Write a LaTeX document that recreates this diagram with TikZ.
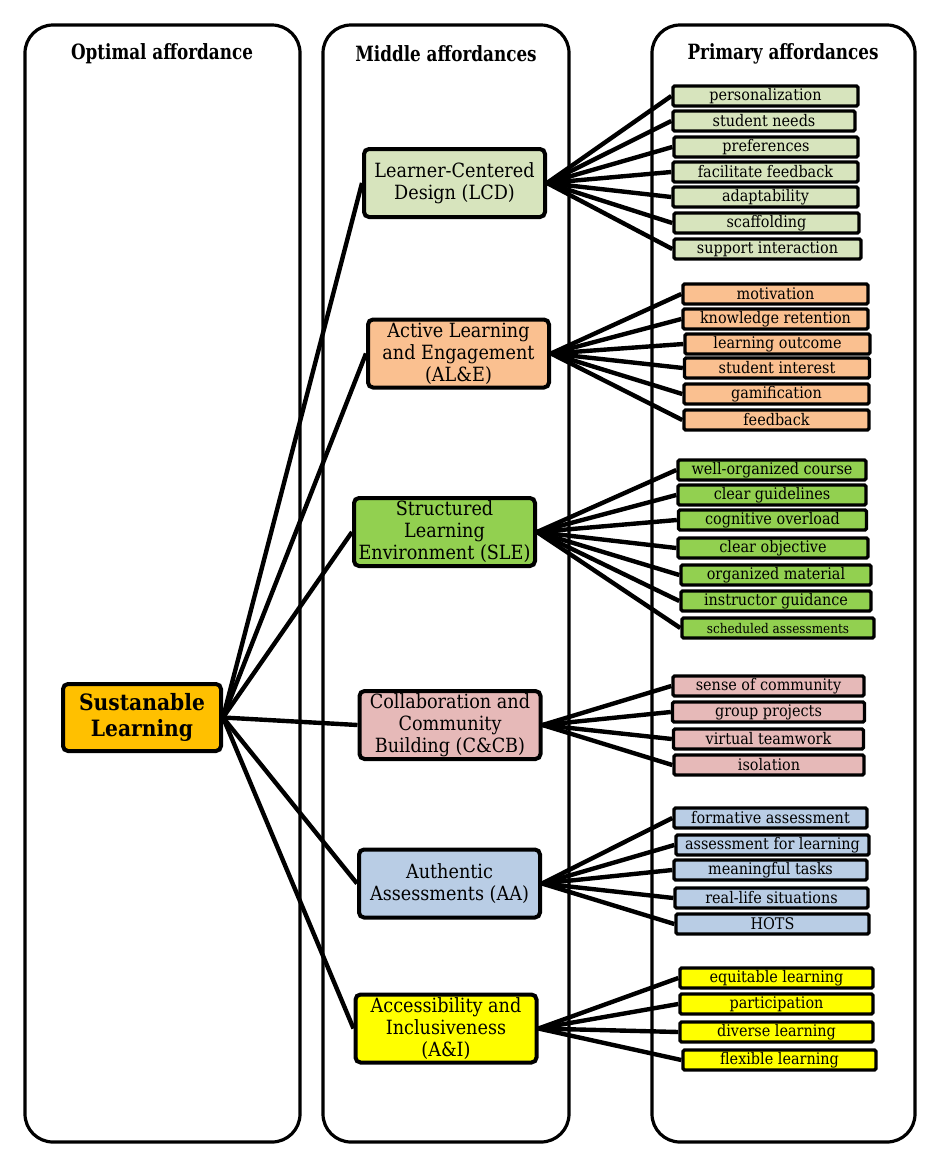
\documentclass[tikz,border=0pt]{standalone}
\usepackage{fontspec}
\setmainfont{DejaVu Serif}[FakeStretch=0.9]
\newfontfamily\headfont{DejaVu Serif}[FakeStretch=0.8]
\usetikzlibrary{backgrounds}
\definecolor{goldc}{HTML}{FFC000}
\definecolor{lcdc}{HTML}{D7E4BD}
\definecolor{alec}{HTML}{FAC090}
\definecolor{slec}{HTML}{92D050}
\definecolor{ccbc}{HTML}{E6B9B8}
\definecolor{aac}{HTML}{B9CDE5}
\definecolor{aic}{HTML}{FFFF00}
\tikzset{
  column/.style={draw, line width=3.2pt, rounded corners=28pt},
  header/.style={font=\headfont\fontsize{21}{24}\selectfont\bfseries},
  mainbox/.style={draw, line width=4pt, rounded corners=5pt, fill=goldc, inner sep=0pt,
    minimum width=158pt, minimum height=67pt, align=center, font=\fontsize{22.5}{26}\selectfont\bfseries},
  midbox/.style={draw, line width=4pt, rounded corners=5pt, inner sep=0pt,
    minimum width=181pt, minimum height=68pt, align=center, font=\fontsize{19.6}{22}\selectfont},
  prim/.style={draw, line width=3.4pt, rounded corners=1.5pt, inner sep=0pt,
    minimum width=185pt, minimum height=20pt, font=\fontsize{16}{17}\selectfont},
  link/.style={line width=4.4pt},
}
\begin{document}
\begin{tikzpicture}[x=1pt, y=-1pt]
\useasboundingbox (0,0) rectangle (941,1168);
% columns
\draw[column] (25,25) rectangle (300,1142);
\draw[column] (323,25) rectangle (569,1142);
\draw[column] (652,25) rectangle (915,1142);
\node[header] (h1) at (162,54) {Optimal affordance};
\node[header] (h2) at (446,54) {Middle affordances};
\node[header] (h3) at (783,54) {Primary affordances};
% main
\node[mainbox] (sl) at (142,717.5) {Sustanable\\Learning};
% middle
\node[midbox, fill=lcdc] (lcd) at (454.5,183) {Learner-Centered\\Design (LCD)};
\node[midbox, fill=alec] (ale) at (458.5,353.5) {Active Learning\\and Engagement\\(AL\&E)};
\node[midbox, fill=slec] (sle) at (444.5,532) {Structured\\Learning\\Environment (SLE)};
\node[midbox, fill=ccbc] (ccb) at (450,725) {Collaboration and\\Community\\Building (C\&CB)};
\node[midbox, fill=aac] (aa) at (449.5,883.5) {Authentic\\Assessments (AA)};
\node[midbox, fill=aic] (ai) at (446,1028.5) {Accessibility and\\Inclusiveness\\(A\&I)};
% LCD group
\node[prim, fill=lcdc] (p11) at (765.5,96) {personalization};
\node[prim, fill=lcdc, minimum width=182pt] (p12) at (764,121) {student needs};
\node[prim, fill=lcdc, minimum width=184pt] (p13) at (766,147) {preferences};
\node[prim, fill=lcdc] (p14) at (765.5,172) {facilitate feedback};
\node[prim, fill=lcdc] (p15) at (765.5,197) {adaptability};
\node[prim, fill=lcdc] (p16) at (766.5,223) {scaffolding};
\node[prim, fill=lcdc, minimum width=187pt] (p17) at (767.5,249) {support interaction};
% AL&E group
\node[prim, fill=alec] (p21) at (775.5,294) {motivation};
\node[prim, fill=alec] (p22) at (775.5,319) {knowledge retention};
\node[prim, fill=alec] (p23) at (777.5,344) {learning outcome};
\node[prim, fill=alec] (p24) at (777,368) {student interest};
\node[prim, fill=alec] (p25) at (776.5,394) {gamification};
\node[prim, fill=alec] (p26) at (776.5,420) {feedback};
% SLE group
\node[prim, fill=slec, minimum width=188pt] (p31) at (772,470) {well-organized course};
\node[prim, fill=slec, minimum width=188pt] (p32) at (772,495) {clear guidelines};
\node[prim, fill=slec, minimum width=188pt] (p33) at (772.5,520) {cognitive overload};
\node[prim, fill=slec, minimum width=190pt] (p34) at (773,548) {clear objective};
\node[prim, fill=slec, minimum width=190pt] (p35) at (776,575) {organized material};
\node[prim, fill=slec, minimum width=190pt] (p36) at (776,601) {instructor guidance};
\node[prim, fill=slec, minimum width=192pt, font=\fontsize{13.4}{14}\selectfont] (p37) at (778,628) {scheduled assessments};
% C&CB group
\node[prim, fill=ccbc, minimum width=191pt] (p41) at (768.5,686) {sense of community};
\node[prim, fill=ccbc, minimum width=192pt] (p42) at (768.5,712) {group projects};
\node[prim, fill=ccbc, minimum width=190pt] (p43) at (768.5,739) {virtual teamwork};
\node[prim, fill=ccbc, minimum width=190pt] (p44) at (769,765) {isolation};
% AA group
\node[prim, fill=aac, minimum width=193pt] (p51) at (770.5,818) {formative assessment};
\node[prim, fill=aac, minimum width=193pt] (p52) at (772.5,845) {assessment for learning};
\node[prim, fill=aac, minimum width=193pt] (p53) at (770.5,870) {meaningful tasks};
\node[prim, fill=aac, minimum width=193pt] (p54) at (771.5,898) {real-life situations};
\node[prim, fill=aac, minimum width=193pt] (p55) at (772.5,924) {HOTS};
% A&I group
\node[prim, fill=aic, minimum width=193pt] (p61) at (776.5,978) {equitable learning};
\node[prim, fill=aic, minimum width=193pt] (p62) at (776.5,1004) {participation};
\node[prim, fill=aic, minimum width=193pt] (p63) at (776.5,1032) {diverse learning};
\node[prim, fill=aic, minimum width=193pt] (p64) at (779.5,1060) {flexible learning};
% links
\begin{scope}[on background layer]
\foreach \m in {lcd,ale,sle,ccb,aa,ai} \draw[link] (sl.east) -- (\m.west);
\foreach \p in {p11,p12,p13,p14,p15,p16,p17} \draw[link] (lcd.east) -- (\p.west);
\foreach \p in {p21,p22,p23,p24,p25,p26} \draw[link] (ale.east) -- (\p.west);
\foreach \p in {p31,p32,p33,p34,p35,p36,p37} \draw[link] (sle.east) -- (\p.west);
\foreach \p in {p41,p42,p43,p44} \draw[link] (ccb.east) -- (\p.west);
\foreach \p in {p51,p52,p53,p54,p55} \draw[link] (aa.east) -- (\p.west);
\foreach \p in {p61,p62,p63,p64} \draw[link] (ai.east) -- (\p.west);
\end{scope}
\end{tikzpicture}
\end{document}
